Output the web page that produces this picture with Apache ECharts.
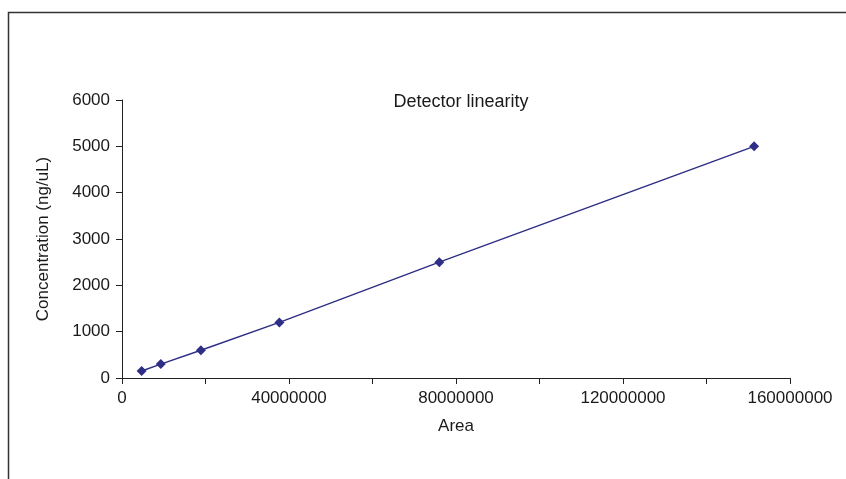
<!DOCTYPE html>
<html>
<head>
    <meta charset="utf-8">
    <title>Detector linearity</title>
    <script src="https://cdn.jsdelivr.net/npm/echarts@6/dist/echarts.min.js"></script>
    <style>
        html, body { margin: 0; padding: 0; background: #fff; }
        #main { width: 846px; height: 479px; }
    </style>
</head>
<body>
<div id="main"></div>
<script type="text/javascript">
    // values
    var areaValues = [4700000, 9300000, 18900000, 37700000, 76000000, 151400000];
    var concValues = [150, 300, 600, 1200, 2500, 5000];

    var pts = areaValues.map(function (a, i) {
        return [a, concValues[i]];
    });

    var font = '"Liberation Sans", Arial, sans-serif';
    var ink = '#1a1a1a';

    var chart = echarts.init(document.getElementById('main'));
    var option = {
        animation: false,
        backgroundColor: '#fff',
        title: {
            text: 'Detector linearity',
            left: 456,
            top: 88,
            textAlign: 'center',
            textStyle: {fontFamily: font, fontSize: 18, fontWeight: 'normal', color: ink}
        },
        graphic: [{
            // outer frame: only top and left edges show in the crop
            type: 'polyline',
            shape: {points: [[8.5, 479], [8.5, 12.5], [846, 12.5]]},
            style: {stroke: '#333', lineWidth: 1.5, fill: null}
        }],
        grid: {
            left: 122,
            right: 56,
            top: 100,
            bottom: 101
        },
        xAxis: {
            type: 'value',
            min: 0,
            max: 160000000,
            interval: 20000000,
            name: 'Area',
            nameLocation: 'middle',
            nameGap: 40,
            nameTextStyle: {fontFamily: font, fontSize: 17, color: ink},
            splitLine: {show: false},
            axisLine: {lineStyle: {color: '#222', width: 1}},
            axisTick: {show: true, length: 6, lineStyle: {color: '#222'}},
            axisLabel: {
                fontFamily: font,
                fontSize: 17,
                color: ink,
                margin: 12,
                formatter: function (v) {
                    return v % 40000000 === 0 ? String(v) : '';
                }
            }
        },
        yAxis: {
            type: 'value',
            min: 0,
            max: 6000,
            interval: 1000,
            name: 'Concentration (ng/uL)',
            nameLocation: 'middle',
            nameGap: 70,
            nameTextStyle: {fontFamily: font, fontSize: 17, color: ink},
            splitLine: {show: false},
            axisLine: {show: true, lineStyle: {color: '#222', width: 1}},
            axisTick: {show: true, length: 6, lineStyle: {color: '#222'}},
            axisLabel: {
                fontFamily: font,
                fontSize: 17,
                color: ink,
                margin: 12,
                formatter: function (v) {
                    return String(v);
                }
            }
        },
        series: [{
            type: 'line',
            data: pts,
            symbol: 'diamond',
            symbolSize: 10,
            itemStyle: {color: '#2f2e86'},
            lineStyle: {color: '#2f2e86', width: 1.5}
        }]
    };
    chart.setOption(option);
</script>
</body>
</html>
